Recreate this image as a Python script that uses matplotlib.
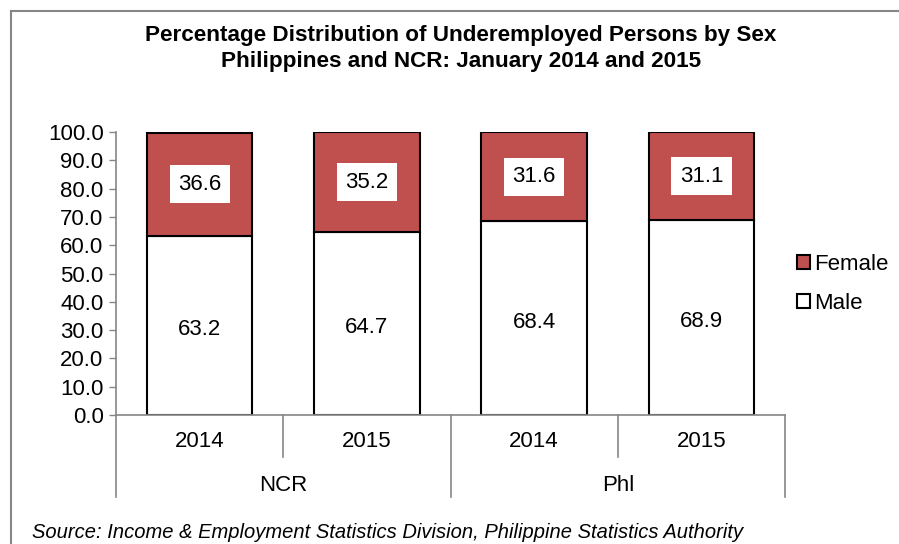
import numpy as np
import matplotlib.pyplot as plt
from matplotlib.lines import Line2D

plt.rcParams["font.family"] = ["Liberation Sans", "DejaVu Sans"]

years = ["2014", "2015", "2014", "2015"]
regions = ["NCR", "Phl"]
male = [63.2, 64.7, 68.4, 68.9]
female = [36.6, 35.2, 31.6, 31.1]

RED = "#C0504D"
GRAY = "#868686"
W, H = 899, 544

fig = plt.figure(figsize=(W / 100, H / 100), dpi=100)
ax = fig.add_axes([116 / W, 1 - 415 / H, (785 - 116) / W, (415 - 132) / H])

x = np.arange(len(years))
ax.bar(x, male, width=0.63, color="white", edgecolor="black", linewidth=1.5, label="Male")
ax.bar(x, female, width=0.63, bottom=male, color=RED, edgecolor="black", linewidth=1.5, label="Female")

for xi, m, f in zip(x, male, female):
    ax.annotate(f"{m:.1f}", (xi, m / 2), xytext=(0, -3), textcoords="offset points",
                ha="center", va="center", fontsize=16)
    ax.text(xi, m + f / 2, f"{f:.1f}", ha="center", va="center", fontsize=16,
            bbox=dict(facecolor="white", edgecolor="none", pad=6))

ax.set_xlim(-0.5, len(years) - 0.5)
ax.set_ylim(0, 100)
ax.set_yticks(np.arange(0, 101, 10))
ax.set_yticklabels([f"{v:.1f}" for v in np.arange(0, 101, 10)], fontsize=16)
ax.tick_params(axis="y", direction="out", length=5, color=GRAY, width=1, pad=4)
ax.set_xticks([])
for s in ["top", "right"]:
    ax.spines[s].set_visible(False)
for s in ["left", "bottom"]:
    ax.spines[s].set_color(GRAY)
    ax.spines[s].set_linewidth(1.2)

# two-level category axis
tr = ax.get_xaxis_transform()
for i, yr in enumerate(years):
    ax.text(i, -0.095, yr, transform=tr, ha="center", va="center", fontsize=16)
for i in range(len(years) + 1):
    outer = i % 2 == 0
    y1 = -0.29 if outer else -0.15
    ax.add_line(Line2D([i - 0.5, i - 0.5], [0, y1], transform=tr, color=GRAY,
                       linewidth=1.2, clip_on=False))
for j, rg in enumerate(regions):
    ax.text(2 * j + 0.5, -0.248, rg, transform=tr, ha="center", va="center", fontsize=16)

fig.text(461 / W, 1 - 35 / H, "Percentage Distribution of Underemployed Persons by Sex",
         ha="center", va="center", fontsize=16.2, fontweight="bold")
fig.text(461 / W, 1 - 61 / H, "Philippines and NCR: January 2014 and 2015",
         ha="center", va="center", fontsize=16.2, fontweight="bold")

handles, labels = ax.get_legend_handles_labels()
fig.legend(handles[::-1], labels[::-1], loc="center left", bbox_to_anchor=(777 / W, 1 - 284 / H),
           frameon=False, fontsize=16, handlelength=0.6, handleheight=0.6,
           handletextpad=0.15, labelspacing=0.8)

fig.text(32 / W, 1 - 532 / H,
         "Source: Income & Employment Statistics Division, Philippine Statistics Authority",
         ha="left", va="center", fontsize=14.5, style="italic")

# outer chart border (left and top)
fig.add_artist(Line2D([11 / W, 11 / W], [0, 1 - 11 / H], transform=fig.transFigure,
                      color=GRAY, linewidth=1.5))
fig.add_artist(Line2D([11 / W, 1], [1 - 11 / H, 1 - 11 / H], transform=fig.transFigure,
                      color=GRAY, linewidth=1.5))

fig.savefig("out.png", dpi=100)
